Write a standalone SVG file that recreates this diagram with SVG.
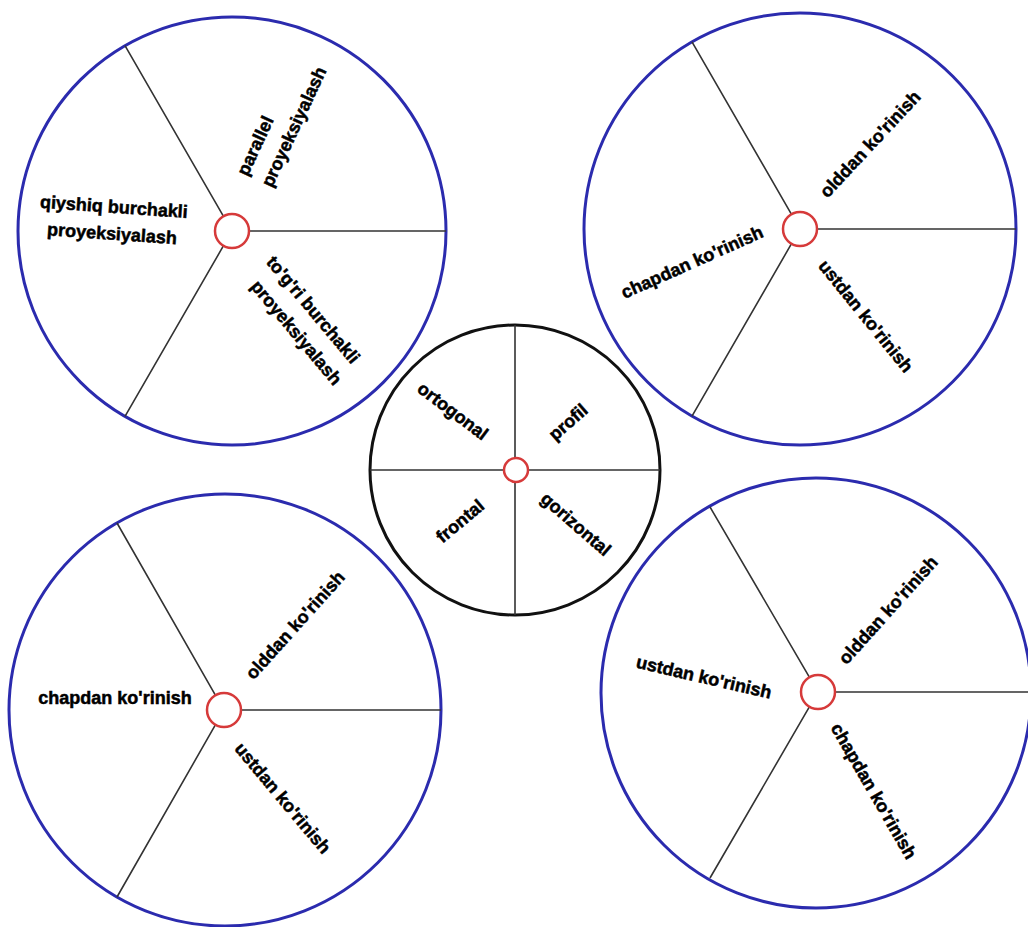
<svg xmlns="http://www.w3.org/2000/svg" width="1028" height="927" viewBox="0 0 1028 927">
<style>
.big{fill:#fff;stroke:#2b2bae;stroke-width:3}
.mid{fill:#fff;stroke:#111;stroke-width:3}
.hub{fill:#fff;stroke:#d63a3a;stroke-width:2.5}
.sp{stroke:#333;stroke-width:1.6;fill:none}
text{font-family:"Liberation Sans",Arial,sans-serif;font-weight:bold;font-size:18px;fill:#000;stroke:#000;stroke-width:0.5}
.c{text-anchor:middle}
.s{text-anchor:start}
</style>
<rect width="1028" height="927" fill="#fff"/>
<g id="circle-top-left">
<circle class="big" cx="232" cy="231" r="214"/>
</g>
<g id="circle-top-right">
<circle class="big" cx="800" cy="229" r="216"/>
</g>
<g id="circle-center">
<circle class="mid" cx="515" cy="470" r="145"/>
</g>
<g id="circle-bottom-left">
<circle class="big" cx="225" cy="710" r="216"/>
</g>
<g id="circle-bottom-right">
<circle class="big" cx="816" cy="693" r="215"/>
</g>
<g id="connectors">
<path class="sp" d="M249 231H446M223.5 216.3L125 45.7M223.5 245.7L125 416.3"/>
<path class="sp" d="M817 229H1016M791.5 214.3L692 41.9M791.5 243.7L692 416.1"/>
<path class="sp" d="M515 458V325M515 482V615M503 470H370M527 470H660"/>
<path class="sp" d="M241 710H441M215.5 695.3L117 523M215.5 724.7L117 897"/>
<path class="sp" d="M835 692H1031M809.5 677.3L710 507M809.5 706.7L710 878"/>
</g>
<g id="hubs">
<circle class="hub" cx="232" cy="231" r="17"/>
<circle class="hub" cx="800" cy="229" r="17"/>
<circle class="hub" cx="516" cy="470" r="12"/>
<circle class="hub" cx="224" cy="710" r="17"/>
<circle class="hub" cx="818" cy="692" r="17"/>
</g>
<g id="labels-top-left">
<g transform="translate(113,220) rotate(4)">
<text class="c" x="0" y="-13.5" dy="0.35em">qiyshiq burchakli</text>
<text class="c" x="0" y="13.5" dy="0.35em">proyeksiyalash</text>
</g>
<g transform="translate(254,180) rotate(-65)">
<text class="s" x="0" y="-13.5" dy="0.35em">parallel</text>
<text class="s" x="0" y="13.5" dy="0.35em">proyeksiyalash</text>
</g>
<g transform="translate(304,320) rotate(50)">
<text class="c" x="-2" y="-13.75" dy="0.35em">to'g'ri burchakli</text>
<text class="c" x="4.75" y="13.75" dy="0.35em">proyeksiyalash</text>
</g>
</g>
<g id="labels-top-right">
<text class="c" transform="translate(870,144) rotate(-47)" dy="0.35em">olddan ko'rinish</text>
<text class="c" transform="translate(692,262) rotate(-24)" dy="0.35em">chapdan ko'rinish</text>
<text class="c" transform="translate(866,316) rotate(51)" dy="0.35em">ustdan ko'rinish</text>
</g>
<g id="labels-center">
<text class="c" transform="translate(453,411) rotate(37)" dy="0.35em">ortogonal</text>
<text class="c" transform="translate(568,422) rotate(-41)" dy="0.35em">profil</text>
<text class="c" transform="translate(460,521) rotate(-40)" dy="0.35em">frontal</text>
<text class="c" transform="translate(576,524) rotate(41)" dy="0.35em">gorizontal</text>
</g>
<g id="labels-bottom-left">
<text class="c" transform="translate(115,698)" dy="0.35em">chapdan ko'rinish</text>
<text class="c" transform="translate(295,625) rotate(-48)" dy="0.35em">olddan ko'rinish</text>
<text class="c" transform="translate(283,798) rotate(50)" dy="0.35em">ustdan ko'rinish</text>
</g>
<g id="labels-bottom-right">
<text class="c" transform="translate(704,677) rotate(13)" dy="0.35em">ustdan ko'rinish</text>
<text class="c" transform="translate(888,610) rotate(-48)" dy="0.35em">olddan ko'rinish</text>
<text class="c" transform="translate(874,791) rotate(60)" dy="0.35em">chapdan ko'rinish</text>
</g>
</svg>
